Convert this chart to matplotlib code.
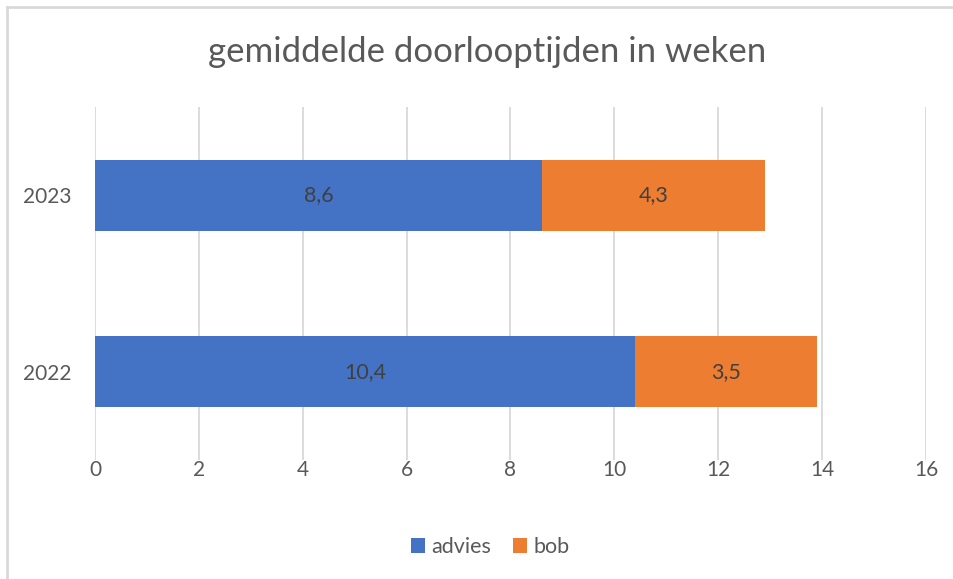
import matplotlib.pyplot as plt
from matplotlib.lines import Line2D

years = ['2022', '2023']
advies = [10.4, 8.6]
bob = [3.5, 4.3]
advies_lbl = ['10,4', '8,6']
bob_lbl = ['3,5', '4,3']
xticks = [0, 2, 4, 6, 8, 10, 12, 14, 16]

plt.rcParams['font.family'] = ['Lato', 'DejaVu Sans']

W, H = 954, 579
fig = plt.figure(figsize=(W / 100, H / 100), dpi=100)
ax = fig.add_axes([95 / W, 1 - 460 / H, (926 - 95) / W, (460 - 107) / H])

pos = list(range(len(years)))
b1 = ax.barh(pos, advies, height=0.4, color='#4472C4', label='advies', zorder=3)
b2 = ax.barh(pos, bob, left=advies, height=0.4, color='#ED7D31', label='bob', zorder=3)
ax.bar_label(b1, labels=advies_lbl, label_type='center', color='#404040', fontsize=15.5)
ax.bar_label(b2, labels=bob_lbl, label_type='center', color='#404040', fontsize=15.5)

ax.set_xlim(0, 16)
ax.set_ylim(-0.5, 1.5)
ax.set_xticks(xticks)
ax.set_yticks(pos)
ax.set_yticklabels(years)
ax.grid(axis='x', color='#d9d9d9', linewidth=1.3, zorder=0)
for s in ax.spines.values():
    s.set_visible(False)
ax.tick_params(length=0, labelsize=15, labelcolor='#595959')
ax.tick_params(axis='x', pad=0)
ax.tick_params(axis='y', pad=17)

fig.text(487 / W, 1 - 52 / H, 'gemiddelde doorlooptijden in weken', ha='center', va='center',
         fontsize=25, color='#595959')

fig.legend(loc='center', bbox_to_anchor=(490 / W, 1 - 547 / H), ncol=2, frameon=False,
           fontsize=15.5, labelcolor='#595959', handlelength=0.65, handleheight=0.65,
           handletextpad=0.3, columnspacing=1.0)

fig.add_artist(Line2D([7 / W, 7 / W], [0, 1 - 7 / H], color='#d9d9d9', lw=2, transform=fig.transFigure))
fig.add_artist(Line2D([7 / W, 1], [1 - 7 / H, 1 - 7 / H], color='#d9d9d9', lw=2, transform=fig.transFigure))

fig.savefig('out.png', dpi=100)
